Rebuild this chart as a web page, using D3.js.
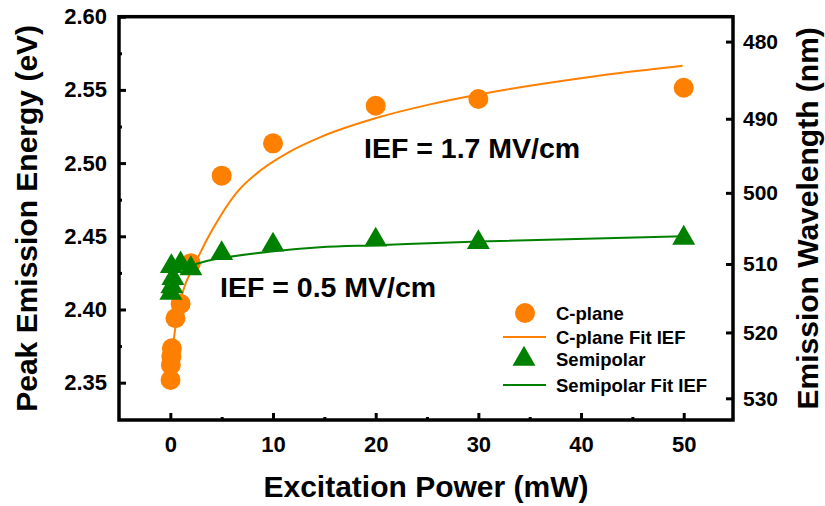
<!DOCTYPE html>
<html>
<head>
<meta charset="utf-8">
<script src="https://cdnjs.cloudflare.com/ajax/libs/d3/7.8.5/d3.min.js"></script>
<style>
  body { margin: 0; background: #fff; }
  svg text { font-family: Arial, "Liberation Sans", sans-serif; font-weight: bold; fill: #000; }
</style>
</head>
<body>
<div id="graph"></div>
<script>
"use strict";

// C-plane measured peaks (power in mW, energy in eV)
var cPower  = [0.02, 0.05, 0.1, 0.15, 0.5, 1, 2, 5, 10, 20, 30, 50];
var cEnergy = [2.3518, 2.3621, 2.3678, 2.3735, 2.394, 2.4038, 2.4316, 2.4914, 2.5135, 2.5392, 2.5438, 2.5515];

// semipolar measured peaks
var sPower  = [0.05, 0.15, 0.25, 0.1, 1, 2, 5, 10, 20, 30, 50];
var sEnergy = [2.4111, 2.4156, 2.4213, 2.4294, 2.4312, 2.428, 2.4383, 2.4441, 2.4475, 2.4458, 2.4488];

// fitted IEF curves
var cFitPower  = [0.03, 0.12, 0.29, 0.46, 0.78, 1.27, 2.08, 2.57, 3.54, 4.84, 6.46, 8.73, 11.65, 14.57, 19.96, 25.29, 29.89, 38.6, 43.79, 49.9];
var cFitEnergy = [2.3532, 2.3655, 2.3769, 2.386, 2.3997, 2.4133, 2.427, 2.4338, 2.4475, 2.4634, 2.4798, 2.4947, 2.5079, 2.5176, 2.5306, 2.5401, 2.5467, 2.5566, 2.5615, 2.5665];
var sFitPower  = [0.1, 1.19, 2.08, 4.06, 4.94, 10.05, 14.58, 20.06, 30.06, 50];
var sFitEnergy = [2.4265, 2.4292, 2.4304, 2.4339, 2.435, 2.4398, 2.4425, 2.4439, 2.4464, 2.45];

// axis ticks
var xTicks = [0, 10, 20, 30, 40, 50];
var xMinor = [5, 15, 25, 35, 45];
var yTicks = [2.35, 2.40, 2.45, 2.50, 2.55, 2.60];
var yMinor = [2.375, 2.425, 2.475, 2.525, 2.575];
var wlTicks = [480, 490, 500, 510, 520, 530];

var legendLabels = ["C-plane", "C-plane Fit IEF", "Semipolar", "Semipolar Fit IEF"];

var ORANGE = "#ff8000",
    GREEN = "#008000",
    HC = 1239.84;

var w = 825, h = 506,
    padL = 119, padR = 733, padT = 16.7, padB = 420;

var svg = d3.select("#graph")
            .append("svg")
            .attr("width", w)
            .attr("height", h);

var x = d3.scaleLinear().domain([-5, 54.8]).range([padL, padR]);
var y = d3.scaleLinear().domain([2.3245, 2.60]).range([padB, padT]);

function zip(a, b) { return a.map(function (v, i) { return [v, b[i]]; }); }

// fit lines
var line = d3.line()
  .x(function (d) { return x(d[0]); })
  .y(function (d) { return y(d[1]); })
  .curve(d3.curveMonotoneX);

svg.append("path")
  .attr("d", line(zip(cFitPower, cFitEnergy)))
  .attr("fill", "none")
  .attr("stroke", ORANGE)
  .attr("stroke-width", 2);

// C-plane points
svg.selectAll("circle.cp")
  .data(zip(cPower, cEnergy))
  .enter()
  .append("circle")
  .attr("class", "cp")
  .attr("cx", function (d) { return x(d[0]); })
  .attr("cy", function (d) { return y(d[1]); })
  .attr("r", 10)
  .attr("fill", ORANGE);

svg.append("path")
  .attr("d", line(zip(sFitPower, sFitEnergy)))
  .attr("fill", "none")
  .attr("stroke", GREEN)
  .attr("stroke-width", 2);

// semipolar points
var tri = d3.symbol().type(d3.symbolTriangle).size(229);
svg.selectAll("path.sp")
  .data(zip(sPower, sEnergy))
  .enter()
  .append("path")
  .attr("class", "sp")
  .attr("d", tri)
  .attr("transform", function (d) { return "translate(" + x(d[0]) + "," + y(d[1]) + ")"; })
  .attr("fill", GREEN);

// axes
function styleAxis(g) {
  g.select(".domain").remove();
  g.selectAll(".tick line").attr("stroke", "#000").attr("stroke-width", 3);
  g.selectAll(".tick text").style("font-size", "22px");
}

svg.append("g")
  .attr("transform", "translate(0," + padB + ")")
  .call(d3.axisBottom(x).tickValues(xTicks).tickSize(-7).tickPadding(12).tickFormat(d3.format("d")))
  .call(styleAxis)
  .selectAll(".tick text").attr("dy", "0.9em");

svg.append("g")
  .attr("transform", "translate(0," + padB + ")")
  .call(d3.axisBottom(x).tickValues(xMinor).tickSize(-3).tickFormat(""))
  .call(styleAxis);

svg.append("g")
  .attr("transform", "translate(" + padL + ",0)")
  .call(d3.axisLeft(y).tickValues(yTicks).tickSize(-7).tickPadding(12).tickFormat(d3.format(".2f")))
  .call(styleAxis);

svg.append("g")
  .attr("transform", "translate(" + padL + ",0)")
  .call(d3.axisLeft(y).tickValues(yMinor).tickSize(-3).tickFormat(""))
  .call(styleAxis);

// wavelength axis: lambda = hc / E
svg.append("g")
  .attr("transform", "translate(" + padR + ",0)")
  .call(d3.axisRight(y)
    .tickValues(wlTicks.map(function (l) { return HC / l; }))
    .tickSize(-7).tickPadding(10)
    .tickFormat(function (e) { return Math.round(HC / e); }))
  .call(styleAxis)
  .selectAll(".tick text").style("font-size", "21px");

// frame
svg.append("rect")
  .attr("x", padL).attr("y", padT)
  .attr("width", padR - padL).attr("height", padB - padT)
  .attr("fill", "none")
  .attr("stroke", "#000")
  .attr("stroke-width", 3.5);

// titles
svg.append("text")
  .attr("x", (padL + padR) / 2).attr("y", 497)
  .attr("text-anchor", "middle")
  .style("font-size", "30px")
  .text("Excitation Power (mW)");

svg.append("text")
  .attr("transform", "translate(37," + (padT + padB) / 2 + ") rotate(-90)")
  .attr("text-anchor", "middle")
  .style("font-size", "30px")
  .text("Peak Emission Energy (eV)");

svg.append("text")
  .attr("transform", "translate(818," + (padT + padB) / 2 + ") rotate(-90)")
  .attr("text-anchor", "middle")
  .style("font-size", "30px")
  .text("Emission Wavelength (nm)");

// annotations
svg.append("text")
  .attr("x", 364).attr("y", 158)
  .style("font-size", "28.5px")
  .text("IEF = 1.7 MV/cm");

svg.append("text")
  .attr("x", 220).attr("y", 297)
  .style("font-size", "28.5px")
  .text("IEF = 0.5 MV/cm");

// legend
var legendY = [313, 337, 359, 385];
var lg = svg.append("g");
lg.append("circle").attr("cx", 525).attr("cy", legendY[0]).attr("r", 10).attr("fill", ORANGE);
lg.append("line").attr("x1", 503).attr("x2", 546).attr("y1", legendY[1]).attr("y2", legendY[1])
  .attr("stroke", ORANGE).attr("stroke-width", 2);
lg.append("path").attr("d", tri).attr("transform", "translate(524," + legendY[2] + ")").attr("fill", GREEN);
lg.append("line").attr("x1", 503).attr("x2", 546).attr("y1", legendY[3]).attr("y2", legendY[3])
  .attr("stroke", GREEN).attr("stroke-width", 2);

lg.selectAll("text")
  .data(legendLabels)
  .enter()
  .append("text")
  .attr("x", 556)
  .attr("y", function (d, i) { return legendY[i] + 7; })
  .style("font-size", "18.5px")
  .text(function (d) { return d; });
</script>
</body>
</html>
